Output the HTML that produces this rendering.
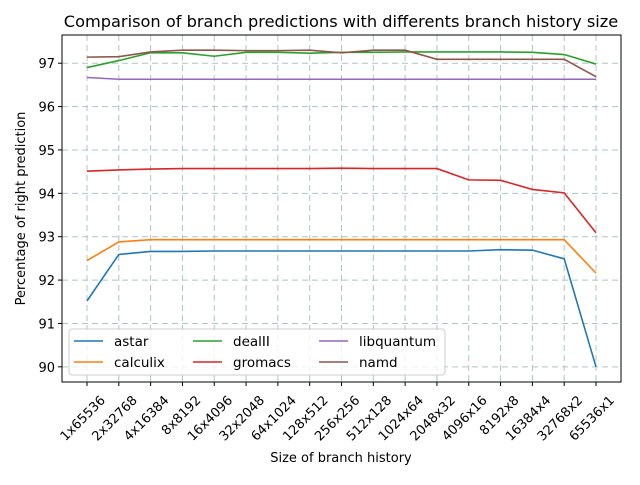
<!DOCTYPE html>
<html><head><meta charset="utf-8"><style>body{margin:0;background:#fff}svg{font-family:"DejaVu Sans","Liberation Sans",sans-serif}</style></head>
<body>
<svg id="chart" width="640" height="480" xmlns="http://www.w3.org/2000/svg"></svg>
<script>
const categories=["1x65536","2x32768","4x16384","8x8192","16x4096","32x2048","64x1024","128x512","256x256","512x128","1024x64","2048x32","4096x16","8192x8","16384x4","32768x2","65536x1"];
const yTicks=[90,91,92,93,94,95,96,97];
const astar=[91.52,92.59,92.66,92.66,92.67,92.67,92.67,92.67,92.67,92.67,92.67,92.67,92.67,92.70,92.69,92.49,90.0];
const calculix=[92.45,92.88,92.93,92.93,92.93,92.93,92.93,92.93,92.93,92.93,92.93,92.93,92.93,92.93,92.93,92.93,92.16];
const dealII=[96.9,97.06,97.24,97.24,97.16,97.25,97.25,97.23,97.25,97.25,97.26,97.26,97.26,97.26,97.25,97.2,96.98];
const gromacs=[94.51,94.54,94.56,94.57,94.57,94.57,94.57,94.57,94.58,94.57,94.57,94.57,94.31,94.3,94.09,94.01,93.09];
const libquantum=[96.67,96.63,96.63,96.63,96.63,96.63,96.63,96.63,96.63,96.63,96.63,96.63,96.63,96.63,96.63,96.63,96.63];
const namd=[97.14,97.15,97.26,97.3,97.3,97.29,97.29,97.3,97.24,97.3,97.3,97.09,97.09,97.09,97.09,97.09,96.69];
const seriesNames=["astar","calculix","dealII","gromacs","libquantum","namd"];
const seriesVals=[astar,calculix,dealII,gromacs,libquantum,namd];
const colors=["#1f77b4","#ff7f0e","#2ca02c","#d62728","#9467bd","#8c564b"];
const L=62,R=621,T=35,B=382,ymin=89.65,ymax=97.65;
const xs=i=>87+i*(596-87)/(categories.length-1);
const ys=v=>B-(v-ymin)/(ymax-ymin)*(B-T);
const svg=document.getElementById('chart');const NS="http://www.w3.org/2000/svg";
function mk(t,a,p){const e=document.createElementNS(NS,t);for(const k in a)e.setAttribute(k,a[k]);(p||svg).appendChild(e);return e;}
let e=mk('text',{x:341,y:27,'font-size':16.2,'text-anchor':'middle'});e.textContent="Comparison of branch predictions with differents branch history size";


const grid=mk('g',{});


categories.forEach((c,i)=>{const x=xs(i);mk('line',{x1:x,x2:x,y1:T,y2:B,stroke:'#b0c4c4','stroke-dasharray':'6,4'},grid);
mk('line',{x1:x,x2:x,y1:B,y2:B+4,stroke:'#000'});
const t=mk('text',{x:0,y:0,'font-size':13,'text-anchor':'end',transform:`translate(${x+19},${B+19}) rotate(-45)`});t.textContent=c;

});
yTicks.forEach(v=>{const y=ys(v);mk('line',{x1:L,x2:R,y1:y,y2:y,stroke:'#b0c4c4','stroke-dasharray':'6,4'},grid);
mk('line',{x1:L-4,x2:L,y1:y,y2:y,stroke:'#000'});
const t=mk('text',{x:L-7,y:y+5,'font-size':13,'text-anchor':'end'});t.textContent=v;

});
seriesVals.forEach((s,k)=>{const p=mk('polyline',{points:s.map((v,i)=>xs(i)+','+ys(v)).join(' '),fill:'none',stroke:colors[k],'stroke-width':1.6});

});
const fr=mk('rect',{x:L,y:T,width:R-L,height:B-T,fill:'none',stroke:'#000','stroke-width':1});


const xt=mk('text',{x:341,y:462,'font-size':13,'text-anchor':'middle'});xt.textContent="Size of branch history";


const yt=mk('text',{x:0,y:0,'font-size':13,'text-anchor':'middle',transform:`translate(25,${(T+B)/2}) rotate(-90)`});yt.textContent="Percentage of right prediction";


const lg=mk('g',{});


mk('rect',{x:69,y:329,width:376,height:46,rx:3,fill:'#fff','fill-opacity':0.8,stroke:'#ccc'},lg);
const colX=[74,193,319];
seriesNames.forEach((n,k)=>{const col=Math.floor(k/2),row=k%2;const x0=colX[col],y0=341+row*21;
mk('line',{x1:x0,x2:x0+29,y1:y0,y2:y0,stroke:colors[k],'stroke-width':1.6},lg);
const t=mk('text',{x:x0+40,y:y0+5,'font-size':13.5},lg);t.textContent=n;

});
</script>
</body></html>
